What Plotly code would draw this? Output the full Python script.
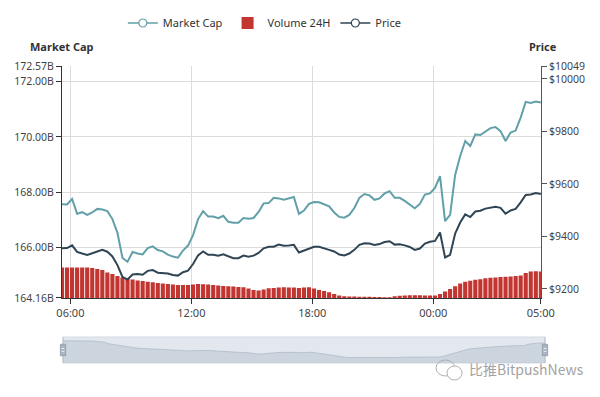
import pandas as pd
import plotly.graph_objects as go

# ---- data (15-minute samples) ----
times = pd.date_range("2019-09-20 05:35", periods=96, freq="15min")

market_cap_b = [
    167.56, 167.55, 167.75, 167.21, 167.27, 167.17, 167.26, 167.39, 167.37, 167.31,
    167.02, 166.52, 165.61, 165.47, 165.83, 165.77, 165.74, 165.97, 166.03, 165.90,
    165.85, 165.73, 165.66, 165.62, 165.88, 166.06, 166.44, 167.02, 167.31, 167.11,
    167.11, 167.05, 167.14, 166.92, 166.89, 166.89, 167.06, 167.03, 167.06, 167.28,
    167.59, 167.60, 167.79, 167.77, 167.72, 167.76, 167.82, 167.21, 167.33, 167.57,
    167.64, 167.63, 167.55, 167.48, 167.26, 167.10, 167.07, 167.17, 167.42, 167.79,
    167.93, 167.88, 167.72, 167.77, 167.95, 168.03, 167.79, 167.79, 167.68, 167.55,
    167.41, 167.57, 167.91, 167.95, 168.15, 168.58, 166.95, 167.17, 168.62, 169.31,
    169.85, 169.67, 170.09, 170.07, 170.21, 170.32, 170.36, 170.21, 169.85, 170.16,
    170.23, 170.70, 171.27, 171.23, 171.28, 171.25,
]

price_usd = [
    9355, 9356, 9366, 9341, 9335, 9330, 9336, 9342, 9349, 9342,
    9324, 9291, 9246, 9236, 9255, 9257, 9254, 9269, 9272, 9262,
    9260, 9259, 9253, 9251, 9264, 9270, 9295, 9328, 9343, 9330,
    9330, 9327, 9332, 9323, 9317, 9317, 9327, 9323, 9327, 9337,
    9355, 9361, 9361, 9369, 9365, 9366, 9368, 9339, 9347, 9356,
    9361, 9361, 9356, 9349, 9343, 9331, 9328, 9335, 9349, 9368,
    9374, 9373, 9368, 9371, 9379, 9382, 9369, 9370, 9366, 9360,
    9349, 9354, 9373, 9380, 9383, 9415, 9320, 9330, 9411, 9453,
    9484, 9474, 9495, 9498, 9506, 9509, 9513, 9509, 9487, 9499,
    9505, 9530, 9558, 9560, 9565, 9562,
]

volume_24h_b = [
    20.95, 20.95, 20.95, 20.95, 20.95, 20.95, 20.90, 20.80, 20.70, 20.45,
    20.30, 20.10, 19.95, 19.85, 19.75, 19.65, 19.60, 19.52, 19.47, 19.40,
    19.35, 19.30, 19.25, 19.20, 19.20, 19.20, 19.25, 19.30, 19.28, 19.25,
    19.20, 19.15, 19.10, 19.07, 19.04, 19.00, 18.97, 18.85, 18.70, 18.65,
    18.75, 18.87, 18.90, 18.95, 18.97, 18.95, 18.95, 18.90, 18.95, 18.97,
    18.85, 18.70, 18.60, 18.48, 18.30, 18.15, 18.07, 18.05, 18.04, 18.03,
    18.03, 18.02, 18.00, 18.00, 17.98, 17.98, 18.07, 18.12, 18.15, 18.18,
    18.18, 18.17, 18.15, 18.15, 18.15, 18.30, 18.55, 18.80, 19.07, 19.35,
    19.52, 19.63, 19.72, 19.78, 19.87, 19.92, 19.96, 20.00, 20.03, 20.06,
    20.10, 20.15, 20.40, 20.54, 20.57, 20.55,
]

x_tick_times = ["2019-09-20 06:00", "2019-09-20 12:00", "2019-09-20 18:00",
                "2019-09-21 00:00", "2019-09-21 05:20"]
x_tick_labels = ["06:00", "12:00", "18:00", "00:00", "05:00"]

mc_ticks = [164.16, 166.00, 168.00, 170.00, 172.00, 172.57]
mc_tick_labels = ["164.16B", "166.00B", "168.00B", "170.00B", "172.00B", "172.57B"]
price_ticks = [9200, 9400, 9600, 9800, 10000, 10049]
price_tick_labels = ["$9200", "$9400", "$9600", "$9800", "$10000", "$10049"]

C_MC = "#61a0a8"
C_VOL = "#c23531"
C_PRICE = "#2f4554"
FONT = "Noto Sans, Open Sans, sans-serif"

fig = go.Figure()

# legend-only entries (in legend order)
fig.add_trace(go.Scatter(x=[None], y=[None], mode="lines+markers", name="Market Cap",
                         line=dict(color=C_MC, width=1.5),
                         marker=dict(symbol="circle", size=8, color="white",
                                     line=dict(color=C_MC, width=1.2))))
fig.add_trace(go.Bar(x=times, y=volume_24h_b, name="Volume 24H", yaxis="y2",
                     marker=dict(color=C_VOL, line=dict(width=0))))
fig.add_trace(go.Scatter(x=[None], y=[None], mode="lines+markers", name="Price",
                         line=dict(color=C_PRICE, width=1.5),
                         marker=dict(symbol="circle", size=8, color="white",
                                     line=dict(color=C_PRICE, width=1.2))))

fig.add_trace(go.Scatter(x=times, y=market_cap_b, mode="lines", name="Market Cap",
                         line=dict(color=C_MC, width=2), showlegend=False))
fig.add_trace(go.Scatter(x=times, y=price_usd, mode="lines", name="Price", yaxis="y3",
                         line=dict(color=C_PRICE, width=2), showlegend=False))

# data-zoom slider preview
fig.add_trace(go.Scatter(x=times, y=volume_24h_b, mode="lines", xaxis="x2", yaxis="y4",
                         fill="tozeroy", fillcolor="rgba(170,182,198,0.40)",
                         line=dict(color="rgba(160,172,190,0.55)", width=1),
                         showlegend=False, hoverinfo="skip"))

x_end = pd.Timestamp(times[-1]) + pd.Timedelta(seconds=30)

# page body has an 8px margin, so the figure is 592x389 and offset by 8px
fig.update_layout(
    width=592, height=389,
    margin=dict(l=54, r=55, t=58, b=34, autoexpand=False),
    paper_bgcolor="white", plot_bgcolor="white",
    font=dict(family=FONT, size=11, color="#333"),
    bargap=0.18,
    showlegend=True,
    legend=dict(orientation="h", x=0.42, xanchor="center",
                yref="container", y=1 - 15 / 389, yanchor="middle",
                font=dict(size=11, color="#333"), itemwidth=30, bgcolor="rgba(0,0,0,0)"),
    xaxis=dict(domain=[0, 479 / 483], type="date", range=[times[0], x_end],
               tickmode="array", tickvals=x_tick_times, ticktext=x_tick_labels,
               ticks="outside", ticklen=5, tickcolor="#333", showline=True,
               linecolor="#333", linewidth=1, showgrid=True, gridcolor="#dcdcdc",
               zeroline=False, anchor="y", tickfont=dict(size=11, color="#444")),
    yaxis=dict(domain=[65 / 297, 1], range=[164.159, 172.571], tickmode="array",
               tickvals=mc_ticks, ticktext=mc_tick_labels, ticks="outside", ticklen=5,
               tickcolor="#333", showline=True, linecolor="#333", linewidth=1,
               showgrid=True, gridcolor="#dcdcdc", zeroline=False,
               tickfont=dict(size=10.5, color="#444")),
    yaxis2=dict(overlaying="y", range=[17.9, 41.1], visible=False),
    yaxis3=dict(overlaying="y", side="right", anchor="x", range=[9165.7, 10049.05],
                tickmode="array", tickvals=price_ticks, ticktext=price_tick_labels,
                ticks="outside", ticklen=5, tickcolor="#555", showline=True,
                linecolor="#555", linewidth=1, showgrid=False, zeroline=False,
                tickfont=dict(size=10.5, color="#444")),
    xaxis2=dict(domain=[1 / 483, 1], anchor="y4", type="date",
                range=[times[0], times[-1]], visible=False),
    yaxis4=dict(domain=[0, 26 / 297], anchor="x2", range=[17.12, 21.59], visible=False),
)

# axis titles
fig.add_annotation(text="<b>Market Cap</b>", xref="paper", yref="paper", x=0, y=(363 - 47) / 297,
                   xanchor="center", yanchor="middle", showarrow=False,
                   font=dict(size=11, color="#333"))
fig.add_annotation(text="<b>Price</b>", xref="paper", yref="paper", x=(543 - 62) / 483,
                   y=(363 - 47) / 297, xanchor="center", yanchor="middle", showarrow=False,
                   font=dict(size=11, color="#333"))

# slider frame and handles
fig.add_shape(type="rect", xref="x2 domain", yref="y4 domain", x0=0, x1=1, y0=0, y1=1,
              fillcolor="rgba(167,183,204,0.32)", line=dict(color="#d3d9e1", width=1),
              layer="below")
for hx in (0, 1):
    fig.add_shape(type="line", xref="x2 domain", yref="y4 domain", x0=hx, x1=hx, y0=0, y1=1,
                  line=dict(color="#b8c2ce", width=1))
    fig.add_shape(type="rect", xref="x2 domain", yref="y4 domain", x0=hx - 0.0055,
                  x1=hx + 0.0055, y0=0.28, y1=0.72, fillcolor="#a9b4c2",
                  line=dict(color="#8e9aa9", width=0.8))
    fig.add_shape(type="line", xref="x2 domain", yref="y4 domain", x0=hx - 0.003,
                  x1=hx + 0.003, y0=0.45, y1=0.45, line=dict(color="white", width=0.8))
    fig.add_shape(type="line", xref="x2 domain", yref="y4 domain", x0=hx - 0.003,
                  x1=hx + 0.003, y0=0.56, y1=0.56, line=dict(color="white", width=0.8))

# watermark
fig.add_shape(type="circle", xref="paper", yref="paper", x0=0.7743, x1=0.8137,
              y0=-0.0438, y1=0.0101, line=dict(color="#b0b0b0", width=1))
fig.add_shape(type="circle", xref="paper", yref="paper", x0=0.7971, x1=0.8282,
              y0=-0.0572, y1=-0.0101, line=dict(color="#b0b0b0", width=1),
              fillcolor="white")
fig.add_annotation(text="比推BitpushNews", xref="paper", yref="paper", x=(467 - 62) / 483,
                   y=(363 - 369) / 297, xanchor="left", yanchor="middle", showarrow=False,
                   font=dict(size=14, color="#a3a3a3",
                             family="Noto Sans CJK SC, Noto Sans, sans-serif"))

fig.write_html("out.html")
